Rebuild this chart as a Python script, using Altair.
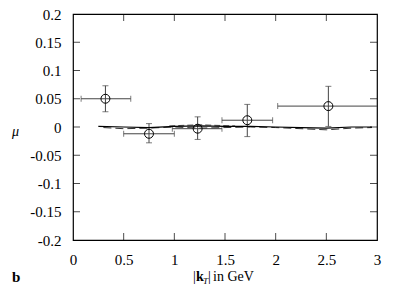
import altair as alt
import pandas as pd

# data points
px = [0.32, 0.75, 1.23, 1.72, 2.52]
py = [0.050, -0.012, -0.003, 0.012, 0.037]
pxlo = [0.08, 0.50, 0.98, 1.47, 2.02]
pxhi = [0.57, 1.00, 1.47, 1.97, 3.00]
pylo = [0.027, -0.028, -0.022, -0.017, 0.001]
pyhi = [0.073, 0.006, 0.018, 0.040, 0.072]

# theory curves near zero
cx_solid = [0.25, 0.5, 0.75, 1.0, 1.25, 1.5, 1.75, 2.0, 2.25, 2.5, 2.75, 2.95]
cy_solid = [0.001, 0.0, -0.001, 0.001, 0.002, 0.001, 0.001, 0.0, -0.001, -0.002, 0.0, 0.0]
cx_dash = [0.3, 0.5, 0.75, 1.0, 1.25, 1.5, 1.75, 2.0, 2.25, 2.5, 2.75, 2.95]
cy_dash = [-0.001, -0.003, -0.002, 0.0, -0.002, -0.001, 0.0, -0.001, -0.003, -0.005, -0.002, -0.001]
cx_dash2 = [0.95, 1.1, 1.25, 1.4, 1.6]
cy_dash2 = [0.002, 0.003, 0.004, 0.003, 0.002]

xticks = [0, 0.5, 1, 1.5, 2, 2.5, 3]
yticks = [-0.2, -0.15, -0.1, -0.05, 0, 0.05, 0.1, 0.15, 0.2]
xinner = [0.5, 1, 1.5, 2, 2.5]
yinner = [-0.15, -0.1, -0.05, 0, 0.05, 0.1, 0.15]

W, H = 304, 226
FONT = "serif"
TL = 7  # inward tick length

pts = pd.DataFrame(dict(x=px, y=py, xlo=pxlo, xhi=pxhi, ylo=pylo, yhi=pyhi))
curves = pd.concat([
    pd.DataFrame(dict(x=cx_solid, y=cy_solid, s="solid")),
    pd.DataFrame(dict(x=cx_dash, y=cy_dash, s="dash")),
    pd.DataFrame(dict(x=cx_dash2, y=cy_dash2, s="dash2")),
])

xs = alt.Scale(domain=[0, 3], nice=False, zero=False)
ys = alt.Scale(domain=[-0.2, 0.2], nice=False, zero=False)

xax = alt.Axis(values=xticks, ticks=False, domain=False, grid=False, labelFont=FONT,
               labelFontSize=15, labelPadding=12, labelColor="black", title=None,
               labelOverlap=False, labelFlush=False,
               labelExpr="toString(datum.value)")
yax = alt.Axis(values=yticks, ticks=False, domain=False, grid=False, labelFont=FONT,
               labelFontSize=15, labelPadding=12, labelColor="black",
               labelOverlap=False, labelFlush=False,
               labelExpr="toString(datum.value)",
               title="μ", titleAngle=0, titleFont=FONT, titleFontStyle="italic",
               titleFontWeight="normal", titleFontSize=14, titleX=-58, titleY=H / 2 + 4,
               titleAlign="center", titleBaseline="middle")


def XQ(f):
    return alt.X(f, type="quantitative", scale=xs, axis=xax)


def YQ(f):
    return alt.Y(f, type="quantitative", scale=ys, axis=yax)


ebc = "#444444"
hbar = alt.Chart(pts).mark_rule(color=ebc, strokeWidth=1).encode(
    x=XQ("xlo"), x2="xhi:Q", y=YQ("y"))
vbar = alt.Chart(pts).mark_rule(color=ebc, strokeWidth=1).encode(
    x=XQ("x"), y=YQ("ylo"), y2="yhi:Q")
capl = alt.Chart(pts).mark_tick(color=ebc, orient="vertical", size=6, thickness=1).encode(
    x=XQ("xlo"), y=YQ("y"))
caph = alt.Chart(pts[pts.xhi < 3]).mark_tick(color=ebc, orient="vertical", size=6, thickness=1).encode(
    x=XQ("xhi"), y=YQ("y"))
capb = alt.Chart(pts).mark_tick(color=ebc, orient="horizontal", size=6, thickness=1).encode(
    x=XQ("x"), y=YQ("ylo"))
capt = alt.Chart(pts).mark_tick(color=ebc, orient="horizontal", size=6, thickness=1).encode(
    x=XQ("x"), y=YQ("yhi"))
circ = alt.Chart(pts).mark_point(shape="circle", filled=False, size=80, color="black",
                                 strokeWidth=1, opacity=1).encode(x=XQ("x"), y=YQ("y"))

line_solid = alt.Chart(curves[curves.s == "solid"]).mark_line(color="black", strokeWidth=1.2).encode(
    x=XQ("x"), y=YQ("y"))
line_dash = alt.Chart(curves[curves.s == "dash"]).mark_line(color="#333333", strokeWidth=1, strokeDash=[8, 4]).encode(
    x=XQ("x"), y=YQ("y"))
line_dash2 = alt.Chart(curves[curves.s == "dash2"]).mark_line(color="#555555", strokeWidth=1, strokeDash=[6, 3]).encode(
    x=XQ("x"), y=YQ("y"))

# inward ticks on all four sides
xt = pd.DataFrame(dict(x=xinner))
yt = pd.DataFrame(dict(y=yinner))
tk_b = alt.Chart(xt).mark_tick(color="black", orient="vertical", size=TL, thickness=1).encode(
    x=XQ("x"), y=alt.value(H - TL / 2))
tk_t = alt.Chart(xt).mark_tick(color="black", orient="vertical", size=TL, thickness=1).encode(
    x=XQ("x"), y=alt.value(TL / 2))
tk_l = alt.Chart(yt).mark_tick(color="black", orient="horizontal", size=TL, thickness=1).encode(
    y=YQ("y"), x=alt.value(TL / 2))
tk_r = alt.Chart(yt).mark_tick(color="black", orient="horizontal", size=TL, thickness=1).encode(
    y=YQ("y"), x=alt.value(W - TL / 2))

one = pd.DataFrame({"a": [0]})


def txt(s, x, y, size=14, weight="normal", style="normal"):
    return alt.Chart(one).mark_text(font=FONT, fontSize=size, fontWeight=weight,
                                    fontStyle=style, align="left", baseline="alphabetic",
                                    color="black").encode(
        x=alt.value(x), y=alt.value(y), text=alt.value(s))


ox, oy = 73, 14
titles = [
    txt("|", 193 - ox, 281 - oy),
    txt("k", 196 - ox, 281 - oy, weight="bold"),
    txt("T", 203 - ox, 284 - oy, size=9, style="italic"),
    txt("|", 208 - ox, 281 - oy),
    txt("in GeV", 213 - ox, 281 - oy),
    txt("b", 12 - ox, 282 - oy, size=15, weight="bold"),
]

chart = alt.layer(
    hbar, vbar, capl, caph, capb, capt, line_dash, line_dash2, line_solid, circ,
    tk_b, tk_t, tk_l, tk_r, *titles
).properties(
    width=W, height=H,
    autosize=alt.AutoSizeParams(type="none"),
    padding={"left": 65, "top": 6, "right": 32, "bottom": 52},
).configure(font=FONT).configure_view(stroke="black", strokeWidth=1.2)

chart.save("out.html", embed_options={"renderer": "svg", "actions": False})
